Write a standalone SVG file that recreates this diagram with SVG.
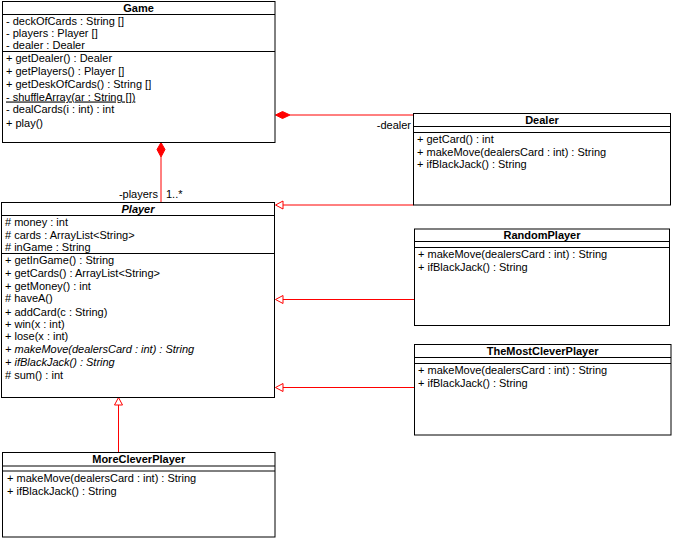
<svg xmlns="http://www.w3.org/2000/svg" width="673" height="538" viewBox="0 0 673 538">
<style>
.box{fill:#fff;stroke:#000;stroke-width:1}
.sep{stroke:#000;stroke-width:1}
text{font-family:"Liberation Sans",Arial,sans-serif;font-size:11px;fill:#000}
.t{font-weight:bold;text-anchor:middle}
.ti{font-weight:bold;font-style:italic;text-anchor:middle}
.i{font-style:italic}
.u{text-decoration:underline}
.c{stroke:#f00;stroke-width:1;fill:none}
.d{fill:#f00;stroke:#f00}
.g{fill:#fff;stroke:#f00}
</style>
<rect width="673" height="538" fill="#fff"/>
<g id="connectors">
<line class="c" x1="161" y1="157" x2="161" y2="202.5"/>
<polygon class="d" points="161,142.5 165,149.5 161,157 157,149.5"/>
<text x="158" y="198" text-anchor="end">-players</text>
<text x="166" y="198">1..*</text>
<line class="c" x1="290" y1="115" x2="413.5" y2="115"/>
<polygon class="d" points="275.5,115 282.5,111.5 290,115 282.5,118.5"/>
<text x="411" y="129" text-anchor="end">-dealer</text>
<line class="c" x1="283" y1="205" x2="413.5" y2="205"/>
<polygon class="g" points="275.5,205 283,201 283,209"/>
<line class="c" x1="283" y1="299.5" x2="414.5" y2="299.5"/>
<polygon class="g" points="275.5,299.5 283,295.5 283,303.5"/>
<line class="c" x1="283" y1="387.5" x2="414.5" y2="387.5"/>
<polygon class="g" points="275.5,387.5 283,383.5 283,391.5"/>
<line class="c" x1="118.5" y1="405" x2="118.5" y2="452.5"/>
<polygon class="g" points="118.5,397.5 114.5,405 122.5,405"/>
</g>
<g id="Game">
<rect class="box" x="2.5" y="1.5" width="272.5" height="141"/>
<line class="sep" x1="2.5" y1="14.5" x2="275" y2="14.5"/>
<line class="sep" x1="2.5" y1="51.5" x2="275" y2="51.5"/>
<text class="t" x="138.5" y="11.5">Game</text>
<text x="6" y="24.5">- deckOfCards : String []</text>
<text x="6" y="37">- players : Player []</text>
<text x="6" y="49">- dealer : Dealer</text>
<text x="6" y="62">+ getDealer() : Dealer</text>
<text x="6" y="75">+ getPlayers() : Player []</text>
<text x="6" y="88">+ getDeskOfCards() : String []</text>
<text x="6" y="100.5" class="u">- shuffleArray(ar : String [])</text>
<text x="6" y="113">- dealCards(i : int) : int</text>
<text x="6" y="126.5">+ play()</text>
</g>
<g id="Player">
<rect class="box" x="1.5" y="202.5" width="273" height="195"/>
<line class="sep" x1="1.5" y1="215.5" x2="274.5" y2="215.5"/>
<line class="sep" x1="1.5" y1="253.5" x2="274.5" y2="253.5"/>
<text class="ti" x="138" y="213.3">Player</text>
<text x="5" y="226"># money : int</text>
<text x="5" y="239.3"># cards : ArrayList&lt;String&gt;</text>
<text x="5" y="251.3"># inGame : String</text>
<text x="5" y="264">+ getInGame() : String</text>
<text x="5" y="277.3">+ getCards() : ArrayList&lt;String&gt;</text>
<text x="5" y="290">+ getMoney() : int</text>
<text x="5" y="302.3"># haveA()</text>
<text x="5" y="315.7">+ addCard(c : String)</text>
<text x="5" y="328">+ win(x : int)</text>
<text x="5" y="340">+ lose(x : int)</text>
<text x="5" y="353.3" class="i">+ makeMove(dealersCard : int) : String</text>
<text x="5" y="366.3" class="i">+ ifBlackJack() : String</text>
<text x="5" y="379.3"># sum() : int</text>
</g>
<g id="Dealer">
<rect class="box" x="413.5" y="113.5" width="257" height="91.5"/>
<line class="sep" x1="413.5" y1="126.5" x2="670.5" y2="126.5"/>
<line class="sep" x1="413.5" y1="132.5" x2="670.5" y2="132.5"/>
<text class="t" x="542" y="124">Dealer</text>
<text x="417" y="143">+ getCard() : int</text>
<text x="417" y="156">+ makeMove(dealersCard : int) : String</text>
<text x="417" y="167.5">+ ifBlackJack() : String</text>
</g>
<g id="RandomPlayer">
<rect class="box" x="414.5" y="229" width="255" height="96.5"/>
<line class="sep" x1="414.5" y1="241.5" x2="669.5" y2="241.5"/>
<line class="sep" x1="414.5" y1="247.5" x2="669.5" y2="247.5"/>
<text class="t" x="542" y="239.3">RandomPlayer</text>
<text x="418" y="258.3">+ makeMove(dealersCard : int) : String</text>
<text x="418" y="271">+ ifBlackJack() : String</text>
</g>
<g id="TheMostCleverPlayer">
<rect class="box" x="414.5" y="344.5" width="256.5" height="90.5"/>
<line class="sep" x1="414.5" y1="357.5" x2="671" y2="357.5"/>
<line class="sep" x1="414.5" y1="363.5" x2="671" y2="363.5"/>
<text class="t" x="542.7" y="355">TheMostCleverPlayer</text>
<text x="418" y="374">+ makeMove(dealersCard : int) : String</text>
<text x="418" y="387.3">+ ifBlackJack() : String</text>
</g>
<g id="MoreCleverPlayer">
<rect class="box" x="2.5" y="452.5" width="272.5" height="84.5"/>
<line class="sep" x1="2.5" y1="466" x2="275" y2="466"/>
<line class="sep" x1="2.5" y1="471" x2="275" y2="471"/>
<text class="t" x="138.7" y="463.3">MoreCleverPlayer</text>
<text x="7" y="482.3">+ makeMove(dealersCard : int) : String</text>
<text x="7" y="494.7">+ ifBlackJack() : String</text>
</g>
</svg>
